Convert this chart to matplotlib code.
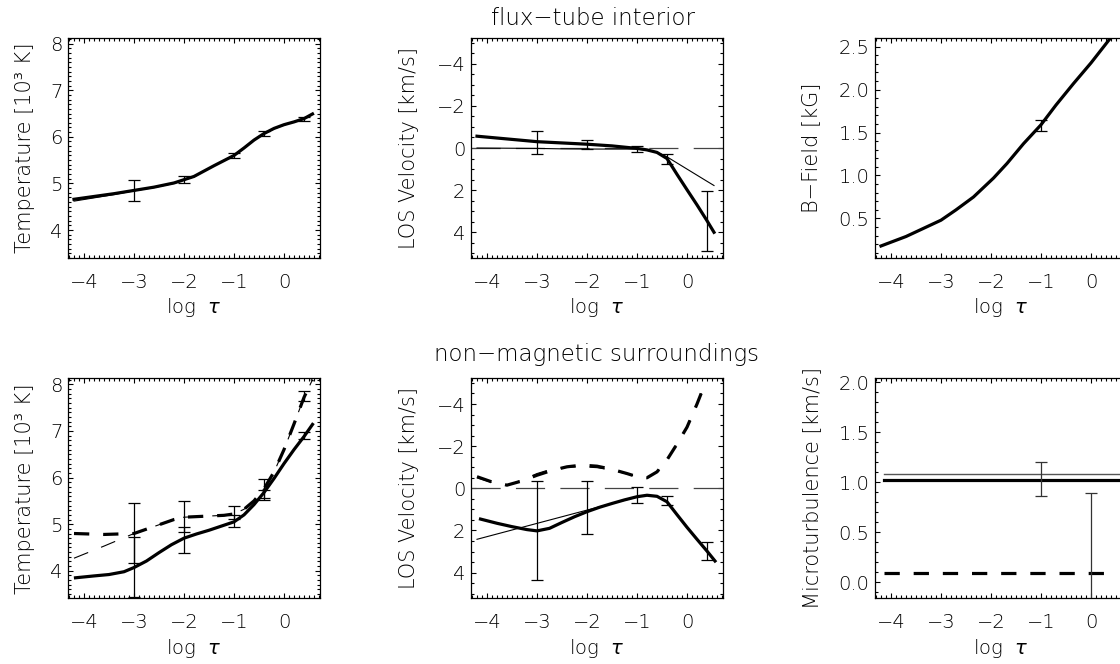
import matplotlib
matplotlib.use("Agg")
import matplotlib.pyplot as plt
from matplotlib.ticker import MultipleLocator, FormatStrFormatter

plt.rcParams['font.family'] = ['DejaVu Sans']
plt.rcParams['font.weight'] = 'light'
plt.rcParams['axes.labelweight'] = 'light'
plt.rcParams['mathtext.fontset'] = 'custom'
plt.rcParams['mathtext.rm'] = 'DejaVu Sans:weight=normal'
plt.rcParams['mathtext.it'] = 'DejaVu Sans:style=oblique:weight=normal'
plt.rcParams['lines.scale_dashes'] = False
plt.rcParams['font.size'] = 14
plt.rcParams['text.color'] = 'black'

# ---------------- data ----------------
# Panel 1: flux-tube interior temperature [10^3 K]
t1_x = [-4.2, -3.8, -3.4, -3.0, -2.6, -2.2, -1.8, -1.4, -1.0, -0.8, -0.6, -0.4, -0.2, 0.0, 0.2, 0.4, 0.57]
t1_thick = [4.66, 4.72, 4.78, 4.85, 4.92, 5.01, 5.15, 5.38, 5.60, 5.76, 5.93, 6.07, 6.18, 6.26, 6.32, 6.39, 6.49]
t1_thin = [4.62, 4.69, 4.76, 4.84, 4.91, 5.00, 5.14, 5.38, 5.61, 5.77, 5.93, 6.06, 6.17, 6.25, 6.32, 6.40, 6.50]
t1_err_x = [-3.0, -2.0, -1.0, -0.4, 0.4]
t1_err_y = [4.85, 5.08, 5.60, 6.07, 6.39]
t1_err = [0.23, 0.08, 0.05, 0.06, 0.04]

# Panel 2: flux-tube interior LOS velocity [km/s]
v1_x = [-4.2, -3.6, -3.0, -2.5, -2.0, -1.5, -1.0, -0.8, -0.6, -0.4, -0.2, 0.0, 0.2, 0.4, 0.54]
v1_thick = [-0.56, -0.43, -0.30, -0.24, -0.18, -0.10, 0.02, 0.09, 0.21, 0.50, 1.25, 1.98, 2.70, 3.45, 4.00]
v1_thin = [0.0, 0.01, 0.02, 0.04, 0.05, 0.05, 0.05, 0.10, 0.20, 0.42, 0.71, 1.00, 1.29, 1.58, 1.78]
v1_err_x = [-3.0, -2.0, -1.0, -0.4, 0.4]
v1_err_y = [-0.25, -0.15, 0.05, 0.52, 3.46]
v1_err = [0.55, 0.22, 0.13, 0.22, 1.41]

# Panel 3: flux-tube interior B-field [kG]
b_x = [-4.2, -3.7, -3.0, -2.7, -2.35, -1.95, -1.68, -1.35, -1.0, -0.7, -0.35, 0.0, 0.39, 0.6]
b_thick = [0.18, 0.29, 0.48, 0.60, 0.75, 0.97, 1.14, 1.37, 1.59, 1.82, 2.07, 2.31, 2.60, 2.75]
b_err_x = [-1.0]
b_err_y = [1.58]
b_err = [0.06]

# Panel 4: surroundings temperature
t2_x = [-4.17, -3.8, -3.5, -3.2, -3.0, -2.75, -2.5, -2.25, -2.0, -1.75, -1.5, -1.25, -1.0, -0.8, -0.6, -0.4, -0.2, 0.0, 0.2, 0.4, 0.57]
t2_thick = [3.85, 3.89, 3.92, 3.98, 4.07, 4.21, 4.39, 4.56, 4.70, 4.79, 4.87, 4.96, 5.05, 5.20, 5.42, 5.68, 5.98, 6.30, 6.60, 6.88, 7.14]
t2d_x = [-4.2, -3.6, -3.0, -2.6, -2.2, -2.0, -1.6, -1.2, -1.0, -0.8, -0.6, -0.4, -0.2, 0.0, 0.2, 0.4, 0.57]
t2_dash = [4.80, 4.78, 4.80, 4.95, 5.10, 5.15, 5.17, 5.19, 5.22, 5.32, 5.50, 5.76, 6.12, 6.60, 7.15, 7.72, 8.10]
t2_thin_dash = [4.27, 4.53, 4.80, 4.95, 5.10, 5.15, 5.17, 5.19, 5.22, 5.32, 5.50, 5.76, 6.12, 6.60, 7.15, 7.72, 8.10]
t2_err_x = [-3.0, -2.0, -1.0, -0.4, 0.4]
t2_err_y = [4.08, 4.66, 5.07, 5.65, 6.90]
t2_err = [0.64, 0.27, 0.13, 0.08, 0.07]
t2d_err_y = [4.81, 5.17, 5.25, 5.75, 7.75]
t2d_err = [0.64, 0.33, 0.13, 0.23, 0.11]

# Panel 5: surroundings LOS velocity
v2_x = [-4.13, -3.8, -3.5, -3.2, -3.0, -2.75, -2.5, -2.25, -2.0, -1.75, -1.5, -1.25, -1.0, -0.8, -0.6, -0.4, -0.2, 0.0, 0.2, 0.4, 0.56]
v2_thick = [1.46, 1.66, 1.82, 1.96, 2.02, 1.90, 1.62, 1.35, 1.11, 0.90, 0.72, 0.55, 0.40, 0.33, 0.38, 0.64, 1.25, 1.85, 2.42, 2.98, 3.45]
v2t_x = [-4.2, -1.5, -1.0, -0.8, -0.6, -0.4, -0.2, 0.0, 0.2, 0.4, 0.56]
v2_thin = [2.42, 0.72, 0.42, 0.33, 0.38, 0.64, 1.25, 1.85, 2.42, 2.98, 3.45]
v2d_x = [-4.2, -3.9, -3.6, -3.3, -3.0, -2.7, -2.4, -2.1, -1.8, -1.5, -1.2, -1.0, -0.8, -0.6, -0.4, -0.2, 0.0, 0.2, 0.35]
v2_dash = [-0.55, -0.30, -0.15, -0.35, -0.62, -0.85, -1.02, -1.10, -1.05, -0.90, -0.70, -0.55, -0.50, -0.78, -1.35, -2.10, -2.90, -4.00, -4.90]
v2_thin_dash = [-0.50, -0.27, -0.13, -0.40, -0.70, -0.92, -1.00, -1.02, -0.98, -0.86, -0.68, -0.55, -0.50, -0.78, -1.35, -2.10, -2.90, -4.00, -4.90]
v2_err_x = [-3.0, -2.0, -1.0, -0.4, 0.4]
v2_err_y = [2.00, 0.91, 0.33, 0.57, 2.98]
v2_err = [2.36, 1.26, 0.38, 0.22, 0.42]

# Panel 6: microturbulence [km/s]
m_x = [-4.15, 0.6]
m_thick = [1.02, 1.02]
m_thin = [1.08, 1.08]
md_x = [-4.15, 0.35]
m_dash = [0.09, 0.09]
m_err_x = [-1.0, 0.0]
m_err_y = [1.03, 0.09]
m_err = [0.17, 0.80]

# ---------------- figure ----------------
W, H = 1120, 664
fig = plt.figure(figsize=(W / 100, H / 100), dpi=100)

def axes_px(left, top, w=252, h=220):
    return fig.add_axes([left / W, 1 - (top + h) / H, w / W, h / H])

THICK = 2.3
THIN = 0.8
DASH = (0, (11, 10))
ZERO = (0, (21, 11))
TICKFS = 14
LABELFS = 15

def style(ax, ylim, ymaj, ymin, ylabel, lx, invert=False):
    ax.set_xlim(-4.32, 0.72)
    if invert:
        ax.set_ylim(ylim[1], ylim[0])
    else:
        ax.set_ylim(*ylim)
    ax.xaxis.set_major_locator(MultipleLocator(1))
    ax.xaxis.set_minor_locator(MultipleLocator(0.1))
    ax.yaxis.set_major_locator(MultipleLocator(ymaj))
    ax.yaxis.set_minor_locator(MultipleLocator(ymin))
    ax.tick_params(which='both', direction='in', top=True, right=True, width=0.8,
                   labelsize=TICKFS)
    ax.tick_params(which='major', length=3.8)
    ax.tick_params(which='minor', length=2.0)
    ax.tick_params(axis='x', pad=10.5)
    ax.tick_params(axis='y', pad=4.0)
    for s in ax.spines.values():
        s.set_linewidth(0.9)
    ax.set_xlabel('log  $\\tau$', fontsize=14, fontweight='light')
    ax.xaxis.set_label_coords(0.5, -0.175)
    ax.set_ylabel(ylabel, fontsize=LABELFS, fontweight='light')
    ax.yaxis.set_label_coords(lx, 0.5)

def ebar(ax, x, y, e, color='black'):
    ax.errorbar(x, y, yerr=e, fmt='none', ecolor=color, elinewidth=0.9,
                capsize=4.0, capthick=0.9)

# Panel 1
ax1 = axes_px(68, 38)
ax1.plot(t1_x, t1_thin, color='black', lw=THIN)
ax1.plot(t1_x, t1_thick, color='black', lw=THICK)
ebar(ax1, t1_err_x, t1_err_y, t1_err)
style(ax1, (3.4, 8.12), 1, 0.1, 'Temperature [10³ K]', -0.13)

# Panel 2
ax2 = axes_px(471, 38)
ax2.axhline(0, color='#444444', lw=0.9, linestyle=ZERO)
ax2.plot(v1_x, v1_thin, color='black', lw=THIN)
ax2.plot(v1_x, v1_thick, color='black', lw=THICK)
ebar(ax2, v1_err_x, v1_err_y, v1_err)
style(ax2, (-5.22, 5.22), 2, 0.5, 'LOS Velocity [km/s]', -0.205, invert=True)

# Panel 3
ax3 = axes_px(875, 38)
ax3.plot(b_x, b_thick, color='black', lw=THICK)
ebar(ax3, b_err_x, b_err_y, b_err)
style(ax3, (0.04, 2.6), 0.5, 0.1, 'B−Field [kG]', -0.215)

# Panel 4
ax4 = axes_px(68, 378.3)
ax4.plot(t2d_x, t2_thin_dash, color='black', lw=THIN, linestyle=DASH)
ax4.plot(t2d_x, t2_dash, color='black', lw=THICK, linestyle=DASH)
ax4.plot(t2_x, t2_thick, color='black', lw=THICK)
ebar(ax4, t2_err_x, t2_err_y, t2_err)
ebar(ax4, t2_err_x, t2d_err_y, t2d_err)
style(ax4, (3.41, 8.13), 1, 0.1, 'Temperature [10³ K]', -0.13)

# Panel 5
ax5 = axes_px(471, 378.3)
ax5.axhline(0, color='#444444', lw=0.9, linestyle=ZERO)
ax5.plot(v2d_x, v2_thin_dash, color='black', lw=THIN, linestyle=DASH)
ax5.plot(v2d_x, v2_dash, color='black', lw=THICK, linestyle=DASH)
ax5.plot(v2t_x, v2_thin, color='black', lw=THIN)
ax5.plot(v2_x, v2_thick, color='black', lw=THICK)
ebar(ax5, v2_err_x, v2_err_y, v2_err)
style(ax5, (-5.22, 5.22), 2, 0.5, 'LOS Velocity [km/s]', -0.205, invert=True)

# Panel 6
ax6 = axes_px(875, 378.3)
ax6.plot(m_x, m_thin, color='#555555', lw=1.0)
ax6.plot(m_x, m_thick, color='black', lw=THICK)
ax6.plot(md_x, m_dash, color='black', lw=THICK, linestyle=DASH)
ebar(ax6, m_err_x, m_err_y, m_err, color='#333333')
style(ax6, (-0.16, 2.04), 0.5, 0.1, 'Microturbulence [km/s]', -0.21)

for ax in (ax3, ax6):
    ax.yaxis.set_major_formatter(FormatStrFormatter('%.1f'))

fig.text(593 / W, 1 - 25 / H, 'flux−tube interior', ha='center', va='baseline',
         fontsize=16.5, fontweight='light')
fig.text(596 / W, 1 - 361.5 / H, 'non−magnetic surroundings', ha='center', va='baseline',
         fontsize=16.5, fontweight='light')

fig.savefig('out.png', dpi=100)
